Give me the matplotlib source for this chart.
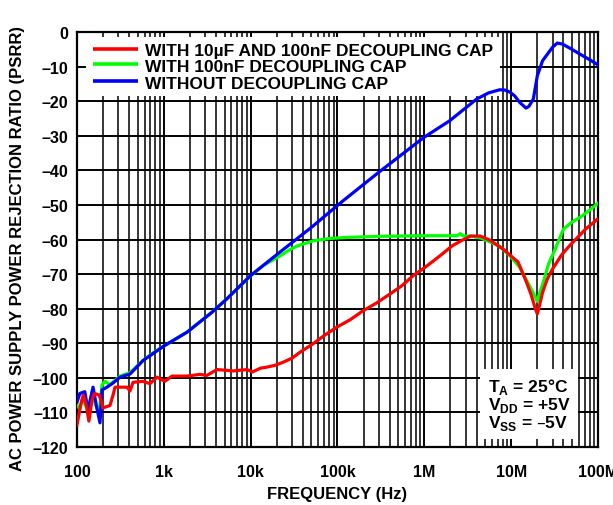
import matplotlib
matplotlib.use("Agg")
import matplotlib.pyplot as plt
from matplotlib.patches import Rectangle

plt.rcParams['font.family'] = ['Liberation Sans', 'DejaVu Sans']
plt.rcParams['font.weight'] = 'bold'

# PSRR vs frequency, three decoupling setups
freq_red = [1.0e2, 1.1e2, 1.18e2, 1.28e2, 1.37e2, 1.5e2, 1.6e2, 1.8e2, 1.92e2, 1.98e2,
            2.4e2, 2.6e2, 2.74e2, 3.77e2, 4.08e2, 4.42e2, 5.76e2, 6.93e2, 8.33e2, 1.03e3,
            1.24e3, 1.85e3, 2.6e3, 3.13e3, 4.1e3, 6.3e3, 9.1e3, 1.05e4, 1.3e4, 1.54e4,
            1.9e4, 2.36e4, 3.0e4, 3.7e4, 5.2e4, 7.0e4, 9.9e4, 1.4e5, 1.97e5, 2.8e5,
            4.0e5, 5.5e5, 7.4e5, 1.0e6, 1.5e6, 2.1e6, 2.7e6, 3.4e6, 4.4e6, 5.7e6,
            8.1e6, 1.2e7, 1.5e7, 1.7e7, 1.9e7, 2.0e7, 2.1e7, 2.3e7, 2.6e7, 3.0e7,
            3.8e7, 4.7e7, 7.2e7, 1.0e8]
psrr_red = [-113.6, -108, -105, -108, -112.5, -106, -104.5, -105, -107, -108.7,
            -108, -105, -102.7, -102.7, -103.8, -101.3, -101, -101.7, -99.8, -101,
            -99.5, -99.5, -99, -99.3, -97.6, -98, -97.6, -98.3, -97.2, -96.9,
            -96.4, -95.5, -94.3, -92.6, -90.2, -87.8, -85.3, -83.2, -80.6, -78.4,
            -75.8, -73.4, -70.5, -68.2, -64.8, -61.8, -60.3, -59, -59, -60.2,
            -62.8, -66.5, -72.3, -76, -80, -81.5, -79.5, -75.3, -71.5, -68.5,
            -64.5, -61.8, -57, -54]

freq_green = [1.0e2, 1.08e2, 1.15e2, 1.25e2, 1.34e2, 1.5e2, 1.65e2, 1.8e2, 1.94e2, 2.1e2,
              2.4e2, 3.13e2, 4.08e2, 5.76e2, 7.5e2, 1.0e3, 1.85e3, 3.6e3, 5.3e3, 1.0e4,
              1.4e4, 2.16e4, 2.8e4, 3.4e4, 5.2e4, 8.2e4, 1.28e5, 3.0e5, 1.0e6, 2.4e6,
              2.6e6, 2.8e6, 3.4e6, 4.5e6, 5.7e6, 7.4e6, 9.7e6, 1.25e7, 1.55e7, 1.9e7,
              2.0e7, 2.1e7, 2.4e7, 2.7e7, 3.1e7, 4.0e7, 5.0e7, 6.3e7, 8.0e7, 1.0e8]
psrr_green = [-108, -109, -106, -108, -109, -104, -108, -110, -102, -101,
              -102, -99.5, -98.5, -95, -92.8, -90.8, -86.8, -81, -77.2, -70.5,
              -67.5, -64.8, -63, -61.9, -60.4, -59.7, -59.4, -59.1, -58.9, -58.9,
              -58.3, -59, -59, -59.6, -60.7, -62, -64.7, -68, -72.4, -76.7,
              -77.9, -76, -71.5, -67, -63.7, -57, -55, -53.5, -51.5, -49.5]

freq_blue = [1.0e2, 1.08e2, 1.23e2, 1.34e2, 1.53e2, 1.7e2, 1.84e2, 1.94e2, 2.21e2, 2.6e2,
             3.13e2, 4.08e2, 5.76e2, 7.5e2, 1.0e3, 1.85e3, 3.6e3, 5.3e3, 1.0e4, 2.16e4,
             5.0e4, 1.16e5, 3.08e5, 1.0e6, 1.95e6, 4.0e6, 5.5e6, 7.4e6, 8.5e6, 9.7e6,
             1.1e7, 1.25e7, 1.48e7, 1.6e7, 1.8e7, 1.9e7, 2.0e7, 2.3e7, 2.6e7, 3.0e7,
             3.4e7, 3.9e7, 5.0e7, 6.2e7, 8.0e7, 1.0e8]
psrr_blue = [-107, -104.5, -104, -109.5, -102.7, -109, -113, -103.5, -102.7, -101.5,
             -99.8, -98.9, -95, -93, -90.8, -86.8, -81, -77.2, -70.4, -63.7,
             -56.5, -48.8, -40.3, -30.4, -25.7, -19.4, -17.6, -16.7, -16.8, -17.4,
             -18.5, -20.3, -22, -21.5, -19.4, -16, -12.7, -8.3, -6.5, -4.4,
             -3.2, -3.5, -5, -6.4, -8, -9.5]

labels = ["WITH 10µF AND 100nF DECOUPLING CAP",
          "WITH 100nF DECOUPLING CAP",
          "WITHOUT DECOUPLING CAP"]
x_ticks = [1e2, 1e3, 1e4, 1e5, 1e6, 1e7, 1e8]
x_ticklabels = ["100", "1k", "10k", "100k", "1M", "10M", "100M"]
y_ticks = list(range(-120, 1, 10))

fig = plt.figure(figsize=(6.13, 5.06), dpi=100)
ax = fig.add_axes([0.1256, 0.1146, 0.8499, 0.8202])

ax.set_xscale("log")
ax.set_xlim(1e2, 1e8)
ax.set_ylim(-120, 0)
ax.set_xticks(x_ticks)
ax.set_xticklabels(x_ticklabels)
ax.set_yticks(y_ticks)
ax.set_yticklabels([f"{v:d}".replace("-", "\u2013") for v in y_ticks])
ax.tick_params(axis="both", which="both", length=0, labelsize=11.5)
ax.tick_params(axis="x", pad=12)
ax.tick_params(axis="y", pad=6.5)
ax.set_axisbelow(True)
ax.grid(True, which="major", color="black", linewidth=1.4)
ax.grid(True, which="minor", axis="x", color="black", linewidth=1.1)
for s in ax.spines.values():
    s.set_linewidth(1.6)

# white panels behind the legend and the conditions block
ax.add_patch(Rectangle((0.017, 0.845), 0.795, 0.143, transform=ax.transAxes,
                       facecolor="white", edgecolor="none", zorder=1))
ax.add_patch(Rectangle((0.7735, 0.019), 0.188, 0.169, transform=ax.transAxes,
                       facecolor="white", edgecolor="none", zorder=1))

series = [(freq_green, psrr_green, "#00ff00", 3),
          (freq_blue, psrr_blue, "#0000ff", 4),
          (freq_red, psrr_red, "#ff0000", 5)]
for f, p, c, z in series:
    ax.plot(f, p, color=c, linewidth=2.3, zorder=z)

# legend rows: short colour bar + label
legend_rows = [("#ff0000", labels[0], 0.960, 0.945),
               ("#00ff00", labels[1], 0.923, 0.906),
               ("#0000ff", labels[2], 0.882, 0.866)]
for c, txt, yl, yt in legend_rows:
    ax.plot([0.031, 0.117], [yl, yl], color=c, linewidth=2.6,
            transform=ax.transAxes, zorder=6, solid_capstyle="butt")
    ax.text(0.1305, yt, txt, transform=ax.transAxes, fontsize=12.5,
            fontweight="bold", va="baseline", zorder=6)

cond_rows = [("T$_\\mathregular{A}$ = 25°C", 0.135),
             ("V$_\\mathregular{DD}$ = +5V", 0.092),
             ("V$_\\mathregular{SS}$ = \u20135V", 0.048)]
for txt, y in cond_rows:
    ax.text(0.789, y, txt, transform=ax.transAxes, fontsize=12.5,
            fontweight="bold", va="baseline", zorder=6)

ax.set_xlabel("FREQUENCY (Hz)", fontsize=12, fontweight="bold", labelpad=5)
ax.set_ylabel("AC POWER SUPPLY POWER REJECTION RATIO (PSRR)", fontsize=12,
              fontweight="bold", labelpad=5)
ax.yaxis.label.set_y(0.48)

fig.savefig("out.png", dpi=100)
